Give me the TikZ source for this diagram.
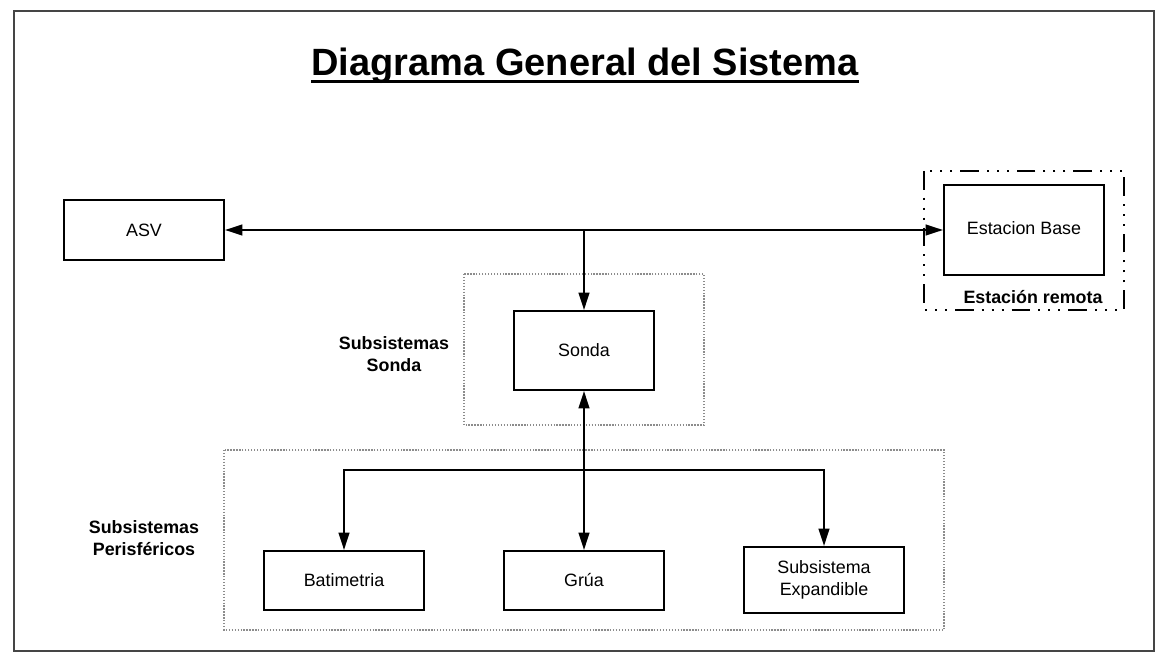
\documentclass[tikz,border=0pt]{standalone}
\usepackage{fontspec}
\setmainfont{Liberation Sans}
\usetikzlibrary{arrows.meta,calc}
\begin{document}
\begin{tikzpicture}[x=0.75pt,y=-0.75pt,
  box/.style={draw=black,line width=1.5pt,fill=white,inner sep=0pt,align=center,font=\fontsize{13.4}{17}\selectfont},
  grp/.style={draw=black!45,line width=0.8pt,dash pattern=on 1pt off 1.2pt},
  lbl/.style={font=\fontsize{13.4}{17}\selectfont\bfseries,align=center,inner sep=0pt},
  conn/.style={line width=1.5pt,-{Triangle[length=13pt,width=8pt]}},
  conn2/.style={line width=1.5pt,{Triangle[length=13pt,width=8pt]}-{Triangle[length=13pt,width=8pt]}}]
\useasboundingbox (0,0) rectangle (1166,666);
% outer frame
\draw[draw=black!73,line width=1.5pt] (14,11) rectangle (1154,651);
% title
\node[inner sep=0pt,font=\fontsize{28.5}{34}\selectfont\bfseries] (title) at (585,66) {Diagrama General del Sistema};
\draw[line width=2.2pt] ($(title.base west)+(0,6)$) -- ($(title.base east)+(0,6)$);
% groups
\draw[grp] (464,274) rectangle (704,425);
\draw[grp] (224,450) rectangle (944,630);
\draw[line width=1.5pt,dash pattern=on 14pt off 6pt on 1.5pt off 6pt on 1.5pt off 6pt on 1.5pt off 6pt] (924,171) rectangle (1124,310);
% boxes
\node[box,minimum width=120pt,minimum height=45pt] (asv) at (144,230) {ASV};
\node[box,minimum width=120pt,minimum height=67.5pt,text depth=0pt,yshift=0pt] (eb) at (1024,230) {\raisebox{3pt}{Estacion Base}};
\node[box,minimum width=105pt,minimum height=59.25pt] (sonda) at (584,350.5) {Sonda};
\node[box,minimum width=120pt,minimum height=44.25pt] (bat) at (344,580.5) {Batimetria};
\node[box,minimum width=120pt,minimum height=44.25pt] (grua) at (584,580.5) {Grúa};
\node[box,minimum width=120pt,minimum height=49.5pt] (exp) at (824,580) {Subsistema\\Expandible};
% labels
\node[lbl] (lremota) at (1033,297) {Estación remota};
\node[lbl] (lsonda) at (394,354) {Subsistemas\\Sonda};
\node[lbl] (lperi) at (144,538) {Subsistemas\\Perisféricos};
% connectors
\coordinate (j1) at (584,230);
\coordinate (j2) at (584,470);
\draw[conn2] (asv.east) -- (eb.west);
\draw[conn] (j1) -- (sonda.north);
\draw[conn] (j2) -- (sonda.south);
\draw[conn] (j2) -- (grua.north);
\draw[conn] (j2) -| (bat.north);
\draw[conn] (j2) -| (exp.north);
\end{tikzpicture}
\end{document}
